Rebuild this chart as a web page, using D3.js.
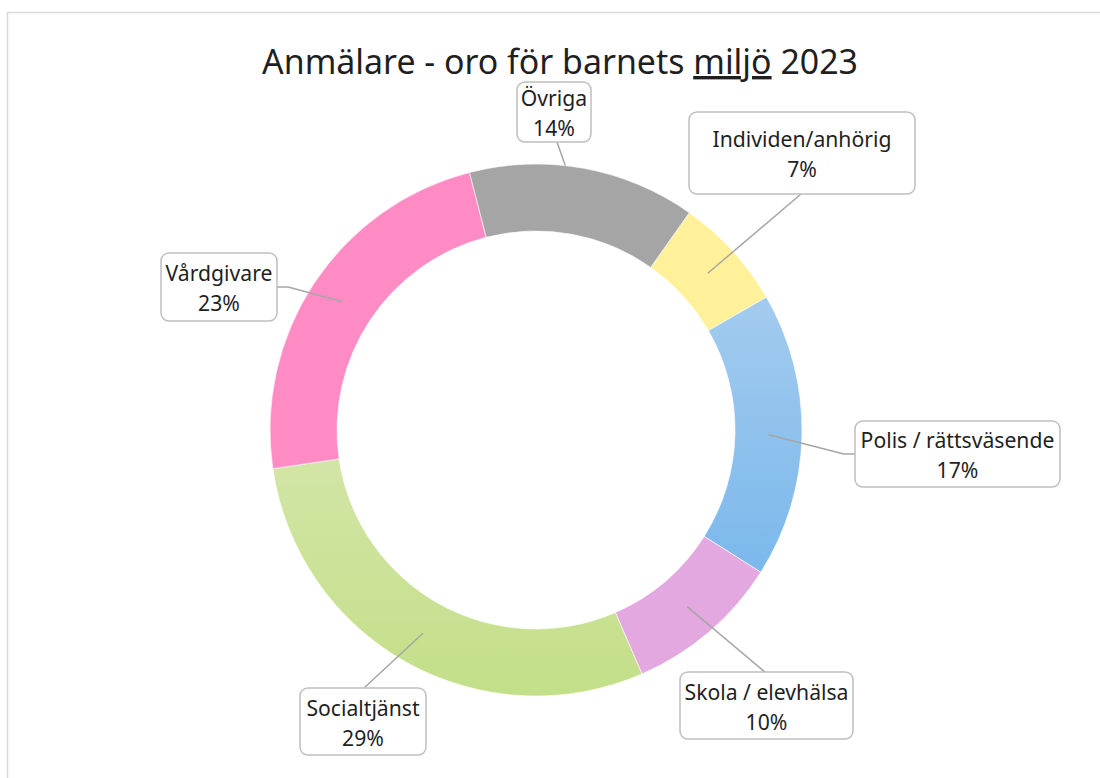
<!DOCTYPE html>
<html>
<head>
<meta charset="utf-8">
<script src="https://cdn.jsdelivr.net/npm/d3@7"></script>
<style>
  html, body { margin: 0; padding: 0; background: #fff; }
  svg { display: block; }
</style>
</head>
<body>
<svg id="chart" width="1100" height="778"></svg>
<script>
// ---- data ----
const categories = ["Individen/anhörig", "Polis / rättsväsende", "Skola / elevhälsa", "Socialtjänst", "Vårdgivare", "Övriga"];
const values = [6.9, 17.3, 9.5, 29.2, 23.3, 13.8];
const titleParts = ["Anmälare - oro för barnets ", "miljö", " 2023"];

// ---- styles / layout ----
const colorsTop    = ["#fff09a", "#a3cbee", "#e3a8e0", "#d2e5a6", "#ff8bc5", "#a5a5a5"];
const colorsBottom = ["#fff09a", "#7bb8ec", "#e3a8e0", "#c3df88", "#ff8bc5", "#a5a5a5"];
// label boxes: x, y, w, h ; leader path start points (box side) and optional elbow
const boxes = [
  {x: 689, y: 112, w: 226, h: 82, start: [801, 194], elbow: null, clip: false},
  {x: 855, y: 421, w: 205, h: 66, start: [855, 454], elbow: [844, 454], clip: false},
  {x: 680, y: 672, w: 173, h: 67, start: [765, 672], elbow: null, clip: false},
  {x: 300, y: 688, w: 126, h: 67, start: [364, 688], elbow: null, clip: false},
  {x: 161, y: 253, w: 116, h: 68, start: [277, 287], elbow: [288, 287], clip: false},
  {x: 517, y: 82,  w: 74,  h: 60, start: [557, 142], elbow: null, clip: true}
];

const svg = d3.select("#chart");
const W = 1100, H = 778;
const cx = 536, cy = 430, R = 266, r0 = 199;
const FONT = "'Noto Sans', 'Open Sans', sans-serif";

// frame
svg.append("rect").attr("x", 7.5).attr("y", 12.5).attr("width", 1200).attr("height", 900)
  .attr("fill", "#fff").attr("stroke", "#d9d9d9").attr("stroke-width", 1.5);

// gradients
const defs = svg.append("defs");
categories.forEach((c, i) => {
  const g = defs.append("linearGradient").attr("id", "grad" + i)
    .attr("x1", 0).attr("y1", 0).attr("x2", 0).attr("y2", 1);
  g.append("stop").attr("offset", "0%").attr("stop-color", colorsTop[i]);
  g.append("stop").attr("offset", "100%").attr("stop-color", colorsBottom[i]);
});

// title
const title = svg.append("text").attr("x", 560).attr("y", 74).attr("text-anchor", "middle")
  .attr("font-family", FONT).attr("font-size", 36).attr("fill", "#1f1f1f");
titleParts.forEach((t, i) => {
  const ts = title.append("tspan").text(t);
  if (i === 1) ts.attr("text-decoration", "underline");
});
// fit title width
{
  const w = title.node().getComputedTextLength();
  const target = 596;
  title.attr("font-size", 36 * target / w);
}

// donut
const startA = 35.2 * Math.PI / 180;
const pie = d3.pie().sort(null).value(d => d).startAngle(startA).endAngle(startA + 2 * Math.PI);
const arcs = pie(values);
const arc = d3.arc().innerRadius(r0).outerRadius(R);
const g = svg.append("g").attr("transform", `translate(${cx},${cy})`);
g.selectAll("path").data(arcs).enter().append("path")
  .attr("d", arc)
  .attr("fill", (d, i) => `url(#grad${i})`)
  .attr("stroke", "#fff").attr("stroke-width", 0.6);

// label font size fit
const probe = svg.append("text").attr("font-family", FONT).attr("font-size", 100).text(categories[1]);
const lblSize = 100 * 194 / probe.node().getComputedTextLength();
probe.remove();

// leaders
const lg = svg.append("g");
arcs.forEach((a, i) => {
  const b = boxes[i];
  const c = arc.centroid(a);
  let end = [cx + c[0], cy + c[1]];
  if (b.clip) {
    // stop line at outer edge of ring
    const s = b.start;
    const dx = end[0] - s[0], dy = end[1] - s[1];
    let lo = 0, hi = 1;
    for (let k = 0; k < 40; k++) {
      const m = (lo + hi) / 2;
      const px = s[0] + dx * m - cx, py = s[1] + dy * m - cy;
      if (Math.hypot(px, py) > R) lo = m; else hi = m;
    }
    end = [s[0] + dx * hi, s[1] + dy * hi];
  }
  const pts = [b.start];
  if (b.elbow) pts.push(b.elbow);
  pts.push(end);
  lg.append("path").attr("d", d3.line()(pts))
    .attr("fill", "none").attr("stroke", "#a6a6a6").attr("stroke-width", 1.5);
});

// label boxes
const labG = svg.append("g");
arcs.forEach((a, i) => {
  const b = boxes[i];
  labG.append("rect").attr("x", b.x).attr("y", b.y).attr("width", b.w).attr("height", b.h)
    .attr("rx", 8).attr("ry", 8)
    .attr("fill", "#fff").attr("stroke", "#bfbfbf").attr("stroke-width", 1.5);
  const mx = b.x + b.w / 2, my = b.y + b.h / 2;
  labG.append("text").attr("x", mx).attr("y", my - 6).attr("text-anchor", "middle")
    .attr("font-family", FONT).attr("font-size", lblSize).attr("fill", "#1f1f1f")
    .text(categories[i]);
  labG.append("text").attr("x", mx).attr("y", my + 24).attr("text-anchor", "middle")
    .attr("font-family", FONT).attr("font-size", lblSize).attr("fill", "#1f1f1f")
    .text(Math.round(values[i]) + "%");
});
</script>
</body>
</html>
